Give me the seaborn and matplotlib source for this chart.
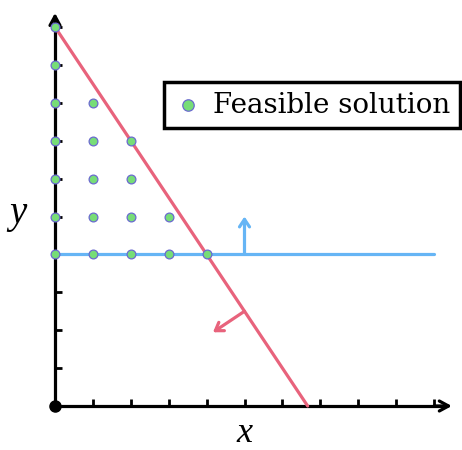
import matplotlib
matplotlib.use("Agg")
import matplotlib.pyplot as plt
import seaborn as sns
import pandas as pd

sns.set_theme(style="white")
plt.rcParams["text.color"] = "black"

# Feasible integer points
feasible_x = [0, 0, 0, 0, 0, 0, 0, 1, 1, 1, 1, 1, 2, 2, 2, 2, 3, 3, 4]
feasible_y = [4, 5, 6, 7, 8, 9, 10, 4, 5, 6, 7, 8, 4, 5, 6, 7, 4, 5, 4]
# Constraint lines
red_x = [0, 20 / 3]
red_y = [10, 0]
blue_x = [0, 10]
blue_y = [4, 4]
ticks = list(range(1, 11))

RED = "#e8637c"
BLUE = "#66b5f5"
GREEN = "#77dd77"
EDGE = "#6a6acf"

W, H = 462, 450
fig = plt.figure(figsize=(W / 100, H / 100), dpi=100)
ox, oy, s = 55, 406, 37.9
l, r, b, t = 45, 461, 418, 6
ax = fig.add_axes([l / W, 1 - b / H, (r - l) / W, (b - t) / H])
ax.set_xlim((l - ox) / s, (r - ox) / s)
ax.set_ylim((oy - b) / s, (oy - t) / s)

sns.lineplot(x=red_x, y=red_y, ax=ax, color=RED, lw=2.3, zorder=3)
sns.lineplot(x=blue_x, y=blue_y, ax=ax, color=BLUE, lw=2.3, zorder=3)

# direction arrows
ax.annotate("", xy=(5, 5), xytext=(5, 4),
            arrowprops=dict(arrowstyle="->,head_length=0.45,head_width=0.3", color=BLUE, lw=2.3, shrinkA=0, shrinkB=0), zorder=3)
ax.annotate("", xy=(5 - 0.832, 2.5 - 0.555), xytext=(5, 2.5),
            arrowprops=dict(arrowstyle="->,head_length=0.45,head_width=0.3", color=RED, lw=2.3, shrinkA=0, shrinkB=0), zorder=3)

# axes
for sp in ["top", "right"]:
    ax.spines[sp].set_visible(False)
for sp in ["left", "bottom"]:
    ax.spines[sp].set_position(("data", 0))
    ax.spines[sp].set_color("black")
    ax.spines[sp].set_linewidth(2.3)
ax.spines["bottom"].set_bounds(0, 10.3)
ax.spines["left"].set_bounds(0, 10.2)
ax.annotate("", xy=(10.47, 0), xytext=(10.0, 0),
            arrowprops=dict(arrowstyle="->,head_length=0.55,head_width=0.3", color="black", lw=2.3, shrinkA=0, shrinkB=0))
ax.annotate("", xy=(0, 10.37), xytext=(0, 9.9),
            arrowprops=dict(arrowstyle="->,head_length=0.55,head_width=0.3", color="black", lw=2.3, shrinkA=0, shrinkB=0))
ax.set_xticks(ticks)
ax.set_yticks(ticks)
ax.set_xticklabels([])
ax.set_yticklabels([])
ax.tick_params(axis="both", direction="in", length=5, width=2, color="black",
               bottom=True, left=True)
ax.plot([0], [0], "o", color="black", ms=8, zorder=5, clip_on=False)

df = pd.DataFrame({"x": feasible_x, "y": feasible_y})
sns.scatterplot(data=df, x="x", y="y", ax=ax, color=GREEN, edgecolor=EDGE,
                linewidth=0.9, s=40, zorder=6, label="Feasible solution", clip_on=False)

ax.set_xlabel("")
ax.set_ylabel("")
fig.text(244 / W, 1 - 434 / H, "x", fontsize=26, family="Liberation Serif", style="italic",
         ha="center", va="center", color="black")
fig.text(18 / W, 1 - 213 / H, "y", fontsize=28, family="Liberation Serif", style="italic",
         ha="center", va="center", color="black")

leg = ax.legend(loc="upper right", bbox_to_anchor=(460 / W, 1 - 82 / H),
                bbox_transform=fig.transFigure, borderaxespad=0, fancybox=False,
                frameon=True, prop={"family": "DejaVu Serif", "size": 20},
                handletextpad=0.4, handlelength=1.0, borderpad=0.35,
                markerscale=1.3)
for txt in leg.get_texts():
    txt.set_color("black")
leg.get_frame().set_edgecolor("black")
leg.get_frame().set_linewidth(2.5)
leg.get_frame().set_alpha(1)

fig.savefig("out.png", dpi=100)
